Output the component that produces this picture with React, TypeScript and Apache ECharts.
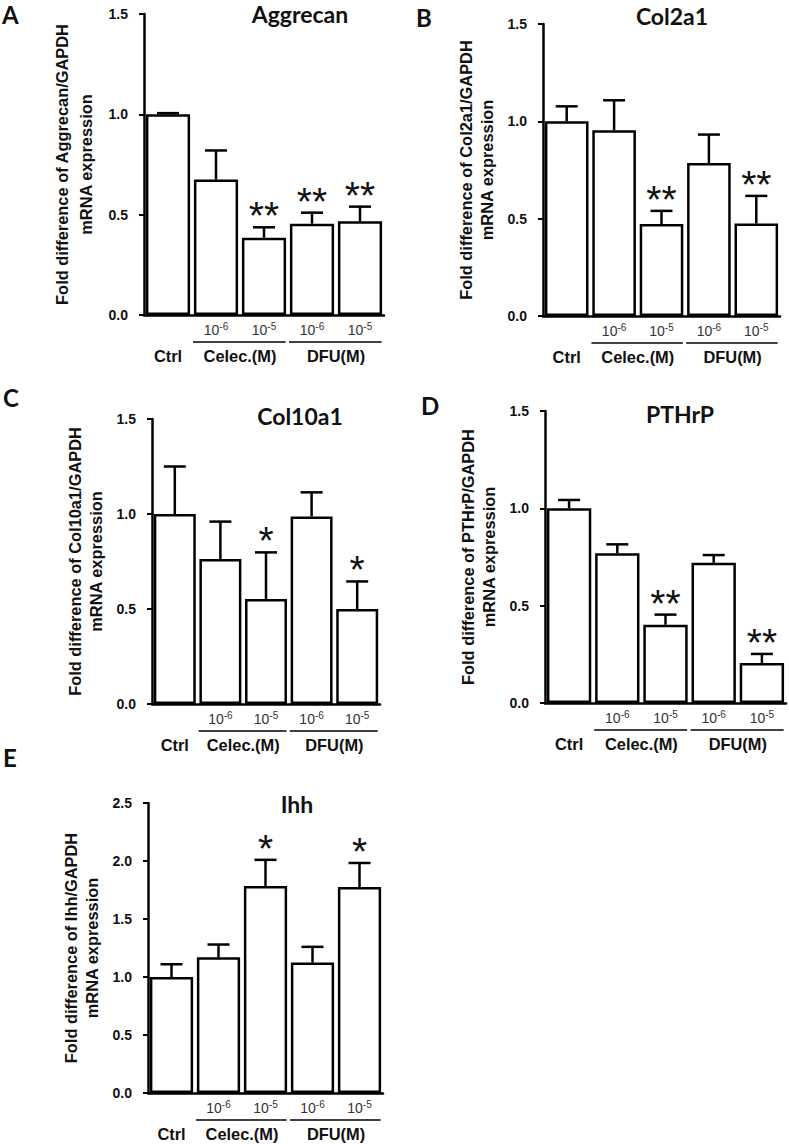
import React, { useEffect, useRef } from "react";
import * as echarts from "echarts";

// ---------- data ----------
const doseLabels = ["", "10-6", "10-5", "10-6", "10-5"];
const groupLabels = ["Ctrl", "Celec.(M)", "DFU(M)"];
const groupSpans = [
  [0, 0, 0],
  [1, 2, 1],
  [3, 4, 2],
];

const aggrecanMean = [1.0, 0.675, 0.385, 0.455, 0.467];
const aggrecanErr = [0.006, 0.145, 0.052, 0.055, 0.073];
const aggrecanSig = ["", "", "**", "**", "**"];

const col2a1Mean = [1.0, 0.954, 0.472, 0.786, 0.475];
const col2a1Err = [0.077, 0.154, 0.068, 0.146, 0.142];
const col2a1Sig = ["", "", "**", "", "**"];

const col10a1Mean = [1.0, 0.763, 0.553, 0.987, 0.5];
const col10a1Err = [0.25, 0.197, 0.245, 0.127, 0.145];
const col10a1Sig = ["", "", "*", "", "*"];

const pthrpMean = [1.0, 0.769, 0.402, 0.72, 0.206];
const pthrpErr = [0.043, 0.046, 0.052, 0.04, 0.046];
const pthrpSig = ["", "", "**", "", "**"];

const ihhMean = [1.0, 1.17, 1.785, 1.124, 1.776];
const ihhErr = [0.11, 0.11, 0.225, 0.136, 0.207];
const ihhSig = ["", "", "*", "", "*"];

const yTicksSmall = { min: 0, max: 1.5, interval: 0.5 };
const yTicksLarge = { min: 0, max: 2.5, interval: 0.5 };

// ---------- layout ----------
const panels = [
  { letter: "A", title: "Aggrecan", gene: "Aggrecan", mean: aggrecanMean, err: aggrecanErr, sig: aggrecanSig, ticks: yTicksSmall,
    grid: { left: 144, top: 14, width: 240, height: 301 }, titleXY: [300, 2], letterXY: [2, 2], nameLH: 24 },
  { letter: "B", title: "Col2a1", gene: "Col2a1", mean: col2a1Mean, err: col2a1Err, sig: col2a1Sig, ticks: yTicksSmall,
    grid: { left: 543, top: 24, width: 237, height: 292 }, titleXY: [672, 4], letterXY: [416, 5], nameLH: 21 },
  { letter: "C", title: "Col10a1", gene: "Col10a1", mean: col10a1Mean, err: col10a1Err, sig: col10a1Sig, ticks: yTicksSmall,
    grid: { left: 152, top: 419, width: 228, height: 285 }, titleXY: [300, 404], letterXY: [3, 385], nameLH: 21 },
  { letter: "D", title: "PTHrP", gene: "PTHrP", mean: pthrpMean, err: pthrpErr, sig: pthrpSig, ticks: yTicksSmall,
    grid: { left: 545, top: 411, width: 241, height: 292 }, titleXY: [680, 402], letterXY: [421, 393], nameLH: 21 },
  { letter: "E", title: "Ihh", gene: "Ihh", mean: ihhMean, err: ihhErr, sig: ihhSig, ticks: yTicksLarge,
    grid: { left: 148, top: 803, width: 235, height: 290 }, titleXY: [297, 792], letterXY: [3, 745], nameLH: 21 },
];

const ARIAL = "Liberation Sans";
const TITLE_FONT = "Lato";

function buildOption() {
  const grid: any[] = [];
  const xAxis: any[] = [];
  const yAxis: any[] = [];
  const series: any[] = [];
  const title: any[] = [];

  panels.forEach((p, i) => {
    grid.push({ ...p.grid, containLabel: false });
    xAxis.push({
      type: "category",
      gridIndex: i,
      data: doseLabels,
      axisLine: { show: true, lineStyle: { color: "#000", width: 2.5 } },
      axisTick: { show: false },
      axisLabel: {
        margin: 6,
        interval: 0,
        formatter: (v: string) => (v ? `{n|10}{s|${v.slice(2)}}` : ""),
        rich: {
          n: { fontSize: 14, fontFamily: ARIAL, color: "#333", lineHeight: 16, verticalAlign: "bottom" },
          s: { fontSize: 10, fontFamily: ARIAL, color: "#333", lineHeight: 16, verticalAlign: "top", padding: [0, 0, 6, 0] },
        },
      },
      splitLine: { show: false },
    });
    yAxis.push({
      type: "value",
      gridIndex: i,
      min: p.ticks.min,
      max: p.ticks.max,
      interval: p.ticks.interval,
      axisLine: { show: true, lineStyle: { color: "#000", width: 2.5 } },
      axisTick: { show: true, length: 5, lineStyle: { color: "#000", width: 2 } },
      axisLabel: {
        margin: 16,
        formatter: (v: number) => v.toFixed(1),
        fontSize: 14,
        fontWeight: "bold",
        fontFamily: ARIAL,
        color: "#111",
      },
      splitLine: { show: false },
      name: `Fold difference of ${p.gene}/GAPDH\nmRNA expression`,
      nameLocation: "middle",
      nameRotate: 90,
      nameGap: 46,
      nameTextStyle: { fontSize: 16.4, fontWeight: "bold", fontFamily: ARIAL, color: "#111", lineHeight: p.nameLH },
    });
    series.push({
      type: "bar",
      xAxisIndex: i,
      yAxisIndex: i,
      data: p.mean,
      barCategoryGap: "8%",
      itemStyle: { color: "#fff", borderColor: "#000", borderWidth: 2.5 },
      z: 2,
    });
    const sig = p.sig;
    series.push({
      type: "custom",
      xAxisIndex: i,
      yAxisIndex: i,
      data: p.mean.map((m, k) => [k, m, p.err[k]]),
      encode: { x: 0, y: 1 },
      z: 3,
      clip: false,
      renderItem: (params: any, api: any) => {
        const x = api.value(0);
        const m = api.value(1);
        const e = api.value(2);
        const base = api.coord([x, m]);
        const top = api.coord([x, m + e]);
        const children: any[] = [
          { type: "line", shape: { x1: base[0], y1: base[1], x2: top[0], y2: top[1] }, style: { stroke: "#000", lineWidth: 2.5 } },
          { type: "line", shape: { x1: top[0] - 11, y1: top[1], x2: top[0] + 11, y2: top[1] }, style: { stroke: "#000", lineWidth: 2.5 } },
        ];
        const s = sig[params.dataIndex];
        if (s) {
          children.push({
            type: "text",
            x: top[0],
            y: top[1] + 8,
            style: {
              text: s,
              fontFamily: ARIAL,
              fontSize: 39,
              fill: "#111",
              align: "center",
              verticalAlign: "bottom",
            },
          });
        }
        return { type: "group", children };
      },
    });
    series.push({
      type: "custom",
      xAxisIndex: i,
      yAxisIndex: i,
      data: groupSpans.map((g) => [g[0], 0, g[1], g[2]]),
      encode: { x: 0, y: 1 },
      z: 3,
      clip: false,
      silent: true,
      renderItem: (params: any, api: any) => {
        const a = api.coord([api.value(0), 0]);
        const b = api.coord([api.value(2), 0]);
        const band = api.size([1, 0])[0];
        const label = groupLabels[api.value(3)];
        const children: any[] = [];
        if (api.value(2) !== api.value(0)) {
          children.push({
            type: "line",
            shape: { x1: a[0] - band * 0.5 + 1, y1: a[1] + 27, x2: b[0] + band * 0.45, y2: a[1] + 27 },
            style: { stroke: "#000", lineWidth: 1.5 },
          });
        }
        children.push({
          type: "text",
          x: (a[0] + b[0]) / 2,
          y: a[1] + 41,
          style: {
            text: label,
            fontFamily: ARIAL,
            fontWeight: "bold",
            fontSize: 16.4,
            fill: "#111",
            align: "center",
            verticalAlign: "middle",
          },
        });
        return { type: "group", children };
      },
    });
    title.push({
      text: p.title,
      left: p.titleXY[0],
      top: p.titleXY[1],
      textAlign: "center",
      padding: 0,
      textStyle: { fontFamily: TITLE_FONT, fontWeight: "bold", fontSize: 23, lineHeight: 24, color: "#111" },
    });
    title.push({
      text: p.letter,
      left: p.letterXY[0],
      top: p.letterXY[1],
      padding: 0,
      textStyle: { fontFamily: TITLE_FONT, fontWeight: "bold", fontSize: 24, color: "#111" },
    });
  });

  return {
    animation: false,
    backgroundColor: "#fff",
    textStyle: { fontFamily: ARIAL },
    title,
    grid,
    xAxis,
    yAxis,
    series,
  };
}

export default function App() {
  const ref = useRef<HTMLDivElement>(null);
  useEffect(() => {
    if (!ref.current) return;
    const chart = echarts.init(ref.current, undefined, { renderer: "svg" });
    chart.setOption(buildOption() as any);
    return () => chart.dispose();
  }, []);
  return (
    <div
      ref={ref}
      style={{ position: "absolute", left: 0, top: 0, width: 789, height: 1144, background: "#fff" }}
    />
  );
}
